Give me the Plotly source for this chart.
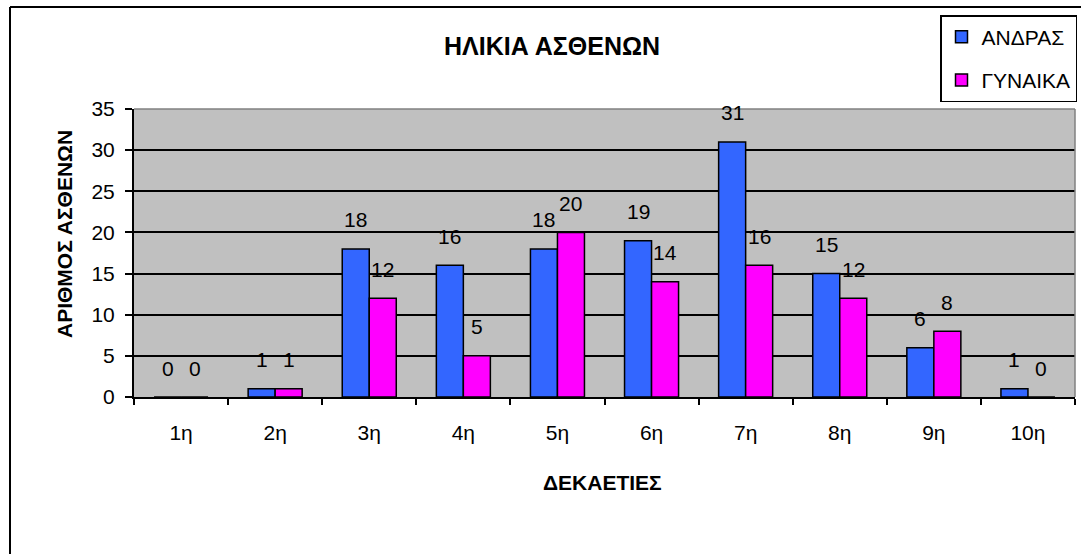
import plotly.graph_objects as go

W, H = 1081, 554

categories = ["1η", "2η", "3η", "4η", "5η", "6η", "7η", "8η", "9η", "10η"]
andras = [0, 1, 18, 16, 18, 19, 31, 15, 6, 1]
gynaika = [0, 1, 12, 5, 20, 14, 16, 12, 8, 0]
series_names = ["ΑΝΔΡΑΣ", "ΓΥΝΑΙΚΑ"]
y_ticks = [0, 5, 10, 15, 20, 25, 30, 35]

FONT = "Liberation Sans, Arial, sans-serif"
BLUE = "#3366FF"
MAGENTA = "#FF00FF"

fig = go.Figure()
fig.add_trace(go.Bar(x=categories, y=andras, name=series_names[0],
                     marker=dict(color=BLUE, line=dict(color="black", width=1.5)),
                     legendgroup="a"))
fig.add_trace(go.Bar(x=categories, y=gynaika, name=series_names[1],
                     marker=dict(color=MAGENTA, line=dict(color="black", width=1.5)),
                     legendgroup="b"))

annotations = []
for vals, xs in ((andras, -13.5), (gynaika, 13.5)):
    for c, v in zip(categories, vals):
        annotations.append(dict(x=c, y=v, xref="x", yref="y", text=str(v),
                                showarrow=False, xshift=xs, yshift=29,
                                xanchor="center", yanchor="middle",
                                font=dict(family=FONT, size=21, color="black")))

# Chart title and axis titles
annotations.append(dict(text="<b>ΗΛΙΚΙΑ ΑΣΘΕΝΩΝ</b>", x=552 / W, y=1 - 46 / H,
                        xref="paper", yref="paper", showarrow=False,
                        xanchor="center", yanchor="middle",
                        font=dict(family=FONT, size=25, color="black")))
annotations.append(dict(text="<b>ΔΕΚΑΕΤΙΕΣ</b>", x=602 / W, y=1 - 482 / H,
                        xref="paper", yref="paper", showarrow=False,
                        xanchor="center", yanchor="middle",
                        font=dict(family=FONT, size=21, color="black")))
annotations.append(dict(text="<b>ΑΡΙΘΜΟΣ ΑΣΘΕΝΩΝ</b>", x=64 / W, y=1 - 234 / H,
                        xref="paper", yref="paper", showarrow=False, textangle=-90,
                        xanchor="center", yanchor="middle",
                        font=dict(family=FONT, size=21, color="black")))

x0, x1 = 134 / W, 1075 / W
y0, y1 = 1 - 397 / H, 1 - 109 / H

shapes = [
    # outer chart border (left and top)
    dict(type="line", xref="paper", yref="paper", x0=10 / W, x1=10 / W, y0=-0.2, y1=1 - 7 / H,
         line=dict(color="black", width=2)),
    dict(type="line", xref="paper", yref="paper", x0=10 / W, x1=1.2, y0=1 - 7 / H, y1=1 - 7 / H,
         line=dict(color="black", width=2)),
    # gray plot-area border top and right
    dict(type="line", xref="x domain", yref="y domain", x0=0, x1=1, y0=1, y1=1,
         line=dict(color="#808080", width=1.5), layer="above"),
    dict(type="line", xref="x domain", yref="y domain", x0=1, x1=1, y0=0, y1=1,
         line=dict(color="#808080", width=1.5), layer="above"),
]

fig.update_layout(
    template="none",
    width=W, height=H,
    autosize=False,
    margin=dict(l=0, r=0, t=0, b=0, pad=0),
    paper_bgcolor="white",
    plot_bgcolor="#C0C0C0",
    barmode="group",
    bargap=0.426,
    bargroupgap=0,
    font=dict(family=FONT, size=21, color="black"),
    showlegend=True,
    legend=dict(x=1077 / W, y=1 - 15 / H, xanchor="right", yanchor="top",
                bgcolor="white", bordercolor="black", borderwidth=1.5,
                font=dict(family=FONT, size=21, color="black"),
                traceorder="grouped", tracegroupgap=13,
                itemwidth=30),
    xaxis=dict(domain=[x0, x1], type="category", tickson="boundaries",
               automargin=False,
               ticks="outside", ticklen=6, tickwidth=1.5, tickcolor="black",
               showline=True, linecolor="black", linewidth=2,
               showgrid=False, ticklabelstandoff=16,
               tickfont=dict(family=FONT, size=21, color="black")),
    yaxis=dict(domain=[y0, y1], range=[0, 35], tickvals=y_ticks,
               automargin=False,
               ticks="outside", ticklen=7, tickwidth=1.5, tickcolor="black",
               showline=True, linecolor="black", linewidth=2,
               showgrid=True, gridcolor="black", gridwidth=1.5,
               zeroline=False, ticklabelstandoff=6,
               tickfont=dict(family=FONT, size=21, color="black")),
    annotations=annotations,
    shapes=shapes,
)

fig.write_html("out.html", config={"displayModeBar": False},
               post_script="document.body.style.margin='0px';document.body.style.overflow='hidden';")
